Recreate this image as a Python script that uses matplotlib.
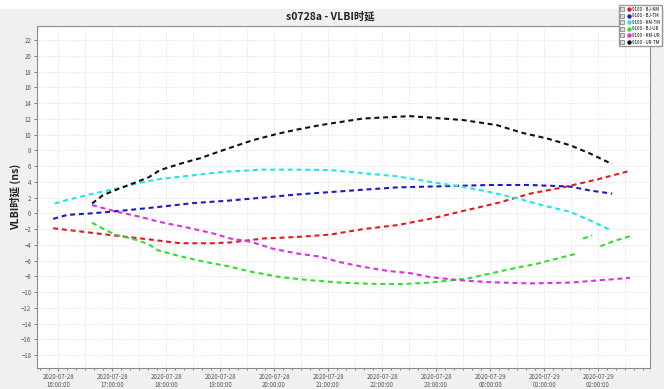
import numpy as np
import pandas as pd
import matplotlib
matplotlib.use("Agg")
import matplotlib.pyplot as plt
import matplotlib.dates as mdates
from matplotlib.lines import Line2D
from matplotlib.legend_handler import HandlerTuple
from matplotlib.patches import Rectangle

plt.rcParams['font.family'] = ['Noto Sans CJK SC', 'DejaVu Sans']

# hours since 2020-07-28 00:00, delay in ns
bj_km_h = [15.91, 16.41, 17.02, 17.67, 18.26, 18.87, 19.19, 19.80, 20.43, 21.04,
           21.65, 22.28, 22.89, 23.50, 24.13, 24.74, 25.35, 25.98, 26.59]
bj_km_v = [-1.9, -2.3, -2.8, -3.3, -3.8, -3.8, -3.7, -3.2, -3.0, -2.7,
           -2.0, -1.5, -0.7, 0.3, 1.3, 2.5, 3.3, 4.3, 5.4]

bj_tm_h = [15.91, 16.17, 16.63, 17.28, 17.85, 18.50, 19.13, 19.80, 20.43, 21.04,
           21.65, 22.28, 22.89, 24.00, 24.74, 25.48, 25.85, 26.26]
bj_tm_v = [-0.7, -0.2, 0.0, 0.4, 0.8, 1.3, 1.6, 2.0, 2.4, 2.7,
           3.0, 3.3, 3.4, 3.6, 3.6, 3.4, 2.9, 2.5]

km_tm_h = [15.94, 16.17, 16.65, 17.09, 17.46, 17.83, 18.20, 18.57, 19.13, 19.80,
           20.43, 21.04, 21.65, 22.28, 22.89, 23.63, 24.00, 24.50, 24.98, 25.48,
           25.85, 26.22]
km_tm_v = [1.25, 1.7, 2.5, 3.15, 3.8, 4.3, 4.6, 4.9, 5.3, 5.55,
           5.55, 5.5, 5.1, 4.7, 4.0, 3.2, 2.7, 1.9, 1.0, 0.2,
           -0.9, -2.1]

bj_ur_h = [16.63, 16.87, 17.06, 17.46, 17.67, 17.85, 18.26, 18.67, 19.13, 19.56,
           20.11, 20.67, 21.22, 21.78, 22.33, 22.89, 23.57, 24.00, 24.43, 24.87,
           25.24, 25.61, 25.66, 25.72, 25.89, 25.95, 26.04, 26.26, 26.59]
bj_ur_v = [-1.2, -2.1, -2.7, -3.4, -3.9, -4.7, -5.45, -6.1, -6.7, -7.4,
           -8.1, -8.5, -8.8, -8.95, -9.0, -8.8, -8.3, -7.65, -7.0, -6.4,
           -5.75, -5.1, np.nan, -3.2, -2.8, np.nan, -4.2, -3.6, -2.9]

km_ur_h = [16.63, 16.87, 17.09, 17.46, 17.89, 18.39, 18.87, 19.19, 19.56, 19.98,
           20.43, 20.85, 21.22, 21.65, 22.09, 22.52, 22.89, 23.44, 24.00, 24.74,
           25.48, 26.04, 26.59]
km_ur_v = [1.05, 0.6, 0.2, -0.35, -1.1, -1.8, -2.55, -3.2, -3.6, -4.5,
           -5.1, -5.5, -6.2, -6.8, -7.3, -7.6, -8.1, -8.5, -8.75, -8.9,
           -8.8, -8.5, -8.2]

ur_tm_h = [16.63, 16.83, 17.06, 17.46, 17.67, 17.89, 18.31, 18.63, 19.13, 19.61,
           20.06, 20.43, 20.85, 21.65, 22.52, 23.50, 24.13, 24.61, 25.06, 25.48,
           25.85, 26.26]
ur_tm_v = [1.25, 2.3, 2.95, 4.0, 4.55, 5.5, 6.4, 7.0, 8.2, 9.3,
           10.1, 10.65, 11.2, 12.05, 12.35, 11.85, 11.2, 10.2, 9.5, 8.65,
           7.6, 6.25]

series = [
    ("9100 - BJ-KM", bj_km_h, bj_km_v, "#e41a1c"),
    ("9100 - BJ-TM", bj_tm_h, bj_tm_v, "#1a1acc"),
    ("9100 - KM-TM", km_tm_h, km_tm_v, "#22e5e5"),
    ("9100 - BJ-UR", bj_ur_h, bj_ur_v, "#2ee02e"),
    ("9100 - KM-UR", km_ur_h, km_ur_v, "#e02ee0"),
    ("9100 - UR-TM", ur_tm_h, ur_tm_v, "#111111"),
]

base = pd.Timestamp("2020-07-28")

fig = plt.figure(figsize=(6.64, 3.89), dpi=100, facecolor="#f0f0f0")
fig.patches.append(Rectangle((0, 1 - 9 / 389), 1, 9 / 389, transform=fig.transFigure,
                             facecolor="white", edgecolor="none", zorder=0))
ax = fig.add_axes([37 / 664, 1 - 368 / 389, 613 / 664, 342 / 389])
ax.set_facecolor("white")

for label, hrs, vals, col in series:
    t = base + pd.to_timedelta(hrs, unit="h")
    ax.plot(t, vals, color=col, lw=1.5, dashes=(2.4, 1.8), solid_capstyle="butt")

ax.set_xlim(base + pd.Timedelta(hours=15.61), base + pd.Timedelta(hours=26.96))
ax.set_ylim(-19.65, 23.8)

# grid every 30 minutes / every 2 ns
for g in pd.date_range(base + pd.Timedelta(hours=15.5), base + pd.Timedelta(hours=27), freq="30min"):
    ax.axvline(g, color="#d8d8d8", lw=0.6, ls=(0, (1, 1.5)), zorder=0)
ax.set_yticks(np.arange(-18, 23, 2))
ax.grid(axis="y", color="#d8d8d8", lw=0.6, ls=(0, (1, 1.5)))
ax.set_axisbelow(True)

ax.xaxis.set_major_locator(mdates.HourLocator())
ax.xaxis.set_minor_locator(mdates.MinuteLocator(byminute=range(0, 60, 10)))
ax.xaxis.set_major_formatter(mdates.DateFormatter("%Y-%m-%d\n%H:%M:%S"))
ax.tick_params(axis="both", labelsize=4.4, colors="#555555", length=2.5, width=0.5, pad=1.5)
ax.tick_params(axis="x", pad=0.8)
ax.tick_params(axis="x", which="minor", length=1.5, width=0.5, colors="#555555")
for lbl in ax.get_xticklabels():
    lbl.set_linespacing(1.1)

for s in ax.spines.values():
    s.set_color("#8a8a8a")
    s.set_linewidth(0.8)

ax.set_ylabel("VLBI时延 (ns)", fontsize=7.5, fontweight="bold", color="#222222", labelpad=0)
fig.text(330 / 664, 1 - 17 / 389, "s0728a - VLBI时延", ha="center", va="center",
         fontsize=7.5, fontweight="bold", color="#222222")

handles = []
for label, hrs, vals, col in series:
    box = Line2D([], [], ls="none", marker="s", ms=2.6, mfc="#dddddd", mec="#555555", mew=0.4)
    dot = Line2D([], [], ls="none", marker="o", ms=2.2, mfc=col, mec=col)
    handles.append((box, dot))
fig.legend(handles, [s[0] for s in series], handler_map={tuple: HandlerTuple(ndivide=None, pad=0.6)},
           loc="upper right", bbox_to_anchor=(662 / 664, 1 - 5 / 389), fontsize=3.2,
           frameon=True, fancybox=False, edgecolor="#999999", facecolor="white", framealpha=1,
           handlelength=2.2, handletextpad=0.4, labelspacing=0.35, borderpad=0.4,
           borderaxespad=0)

fig.savefig("out.png", dpi=100, facecolor=fig.get_facecolor())
